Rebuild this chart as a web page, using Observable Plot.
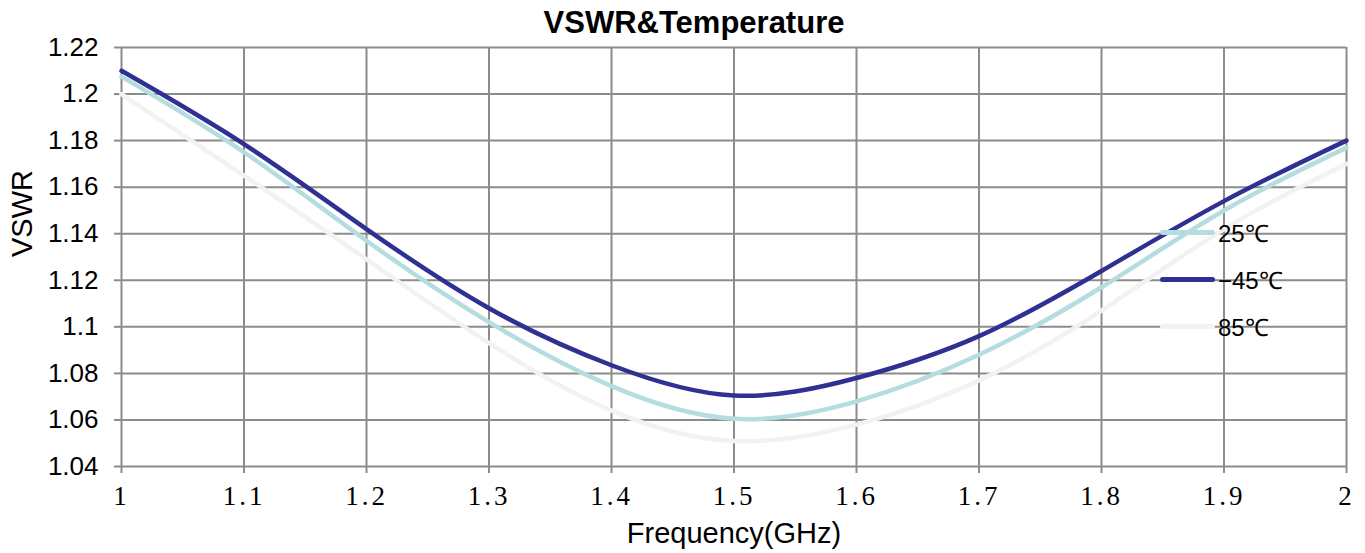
<!DOCTYPE html>
<html>
<head>
<meta charset="utf-8">
<script src="https://cdn.jsdelivr.net/npm/d3@7"></script>
<script src="https://cdn.jsdelivr.net/npm/@observablehq/plot@0.6"></script>
<style>
  body { margin: 0; background: #fff; }
  #wrap { position: relative; width: 1365px; height: 553px; }
  #legend { position: absolute; left: 1160px; top: 208.5px; font-family: "Liberation Sans", Arial, sans-serif; font-size: 24px; color: #000; }
  .row { display: flex; align-items: center; height: 47px; }
  .sw { width: 55px; height: 5px; border-radius: 3px; margin-right: 3px; }
  #wrap svg g[aria-label="x-axis tick label"] text { font-family: "Liberation Serif", serif !important; font-size: 27px !important; letter-spacing: 3px; }
</style>
</head>
<body>
<div id="wrap"></div>
<script>
const title = "VSWR&Temperature";
const xLabel = "Frequency(GHz)";
const yLabel = "VSWR";
const freq = [1.0, 1.1, 1.2, 1.3, 1.4, 1.5, 1.6, 1.7, 1.8, 1.9, 2.0];
const vswr25 = [1.2075, 1.175, 1.137, 1.102, 1.0745, 1.0605, 1.068, 1.088, 1.117, 1.150, 1.177];
const vswrM45 = [1.210, 1.1785, 1.142, 1.108, 1.0835, 1.0705, 1.078, 1.096, 1.124, 1.154, 1.180];
const vswr85 = [1.200, 1.165, 1.129, 1.093, 1.064, 1.051, 1.058, 1.077, 1.107, 1.142, 1.170];
const seriesNames = ["25℃", "−45℃", "85℃"];
const seriesColors = ["#b4dde0", "#2e3192", "#f2f2f2"];
const xTicks = [1, 1.1, 1.2, 1.3, 1.4, 1.5, 1.6, 1.7, 1.8, 1.9, 2];
const yTicks = [1.04, 1.06, 1.08, 1.1, 1.12, 1.14, 1.16, 1.18, 1.2, 1.22];

const seriesValues = [vswr25, vswrM45, vswr85];
const data = [];
seriesNames.forEach((name, s) => freq.forEach((f, i) => data.push({series: name, f, v: seriesValues[s][i]})));

const grid = "#8c8c8c";
const sans = "Liberation Sans, Arial, sans-serif";
const plot = Plot.plot({
  width: 1365,
  height: 553,
  marginLeft: 121,
  marginRight: 19,
  marginTop: 47,
  marginBottom: 87,
  style: {background: "#fff", overflow: "visible"},
  x: {domain: [1, 2], ticks: xTicks},
  y: {domain: [1.04, 1.22], ticks: yTicks},
  color: {domain: seriesNames, range: seriesColors},
  marks: [
    Plot.gridX(xTicks, {stroke: grid, strokeOpacity: 1, strokeWidth: 2}),
    Plot.gridY(yTicks, {stroke: grid, strokeOpacity: 1, strokeWidth: 2}),
    Plot.axisX(xTicks, {stroke: grid, strokeWidth: 2, tickSize: 7, tickPadding: 12, fontSize: 27, fontFamily: "Liberation Serif, serif", tickFormat: d => String(d), label: null}),
    Plot.axisY(yTicks, {stroke: grid, strokeWidth: 2, tickSize: 7, tickPadding: 16, fontSize: 26, fontFamily: sans, tickFormat: d => String(+d.toFixed(2)), label: null}),
    Plot.line(data.filter(d => d.series === seriesNames[2]), {x: "f", y: "v", stroke: "series", strokeWidth: 4.5, curve: "natural"}),
    Plot.line(data.filter(d => d.series === seriesNames[0]), {x: "f", y: "v", stroke: "series", strokeWidth: 4.5, curve: "natural"}),
    Plot.line(data.filter(d => d.series === seriesNames[1]), {x: "f", y: "v", stroke: "series", strokeWidth: 4.5, curve: "natural"}),
    Plot.text([title], {frameAnchor: "top", lineAnchor: "middle", dx: -40, dy: -24, fontSize: 31, fontWeight: "bold", fontFamily: sans, fill: "#000"}),
    Plot.text([xLabel], {frameAnchor: "bottom", lineAnchor: "middle", dy: 67, fontSize: 29, fontFamily: sans, fill: "#000"}),
    Plot.text([yLabel], {frameAnchor: "left", lineAnchor: "middle", dx: -99, rotate: -90, fontSize: 29, fontFamily: sans, fill: "#000"})
  ]
});
const wrap = document.getElementById("wrap");
wrap.appendChild(plot);
const legend = document.createElement("div");
legend.id = "legend";
seriesNames.forEach((n, i) => {
  const row = document.createElement("div");
  row.className = "row";
  const sw = document.createElement("div");
  sw.className = "sw";
  sw.style.background = seriesColors[i];
  const t = document.createElement("span");
  t.textContent = n;
  row.appendChild(sw);
  row.appendChild(t);
  legend.appendChild(row);
});
wrap.appendChild(legend);
</script>
</body>
</html>
